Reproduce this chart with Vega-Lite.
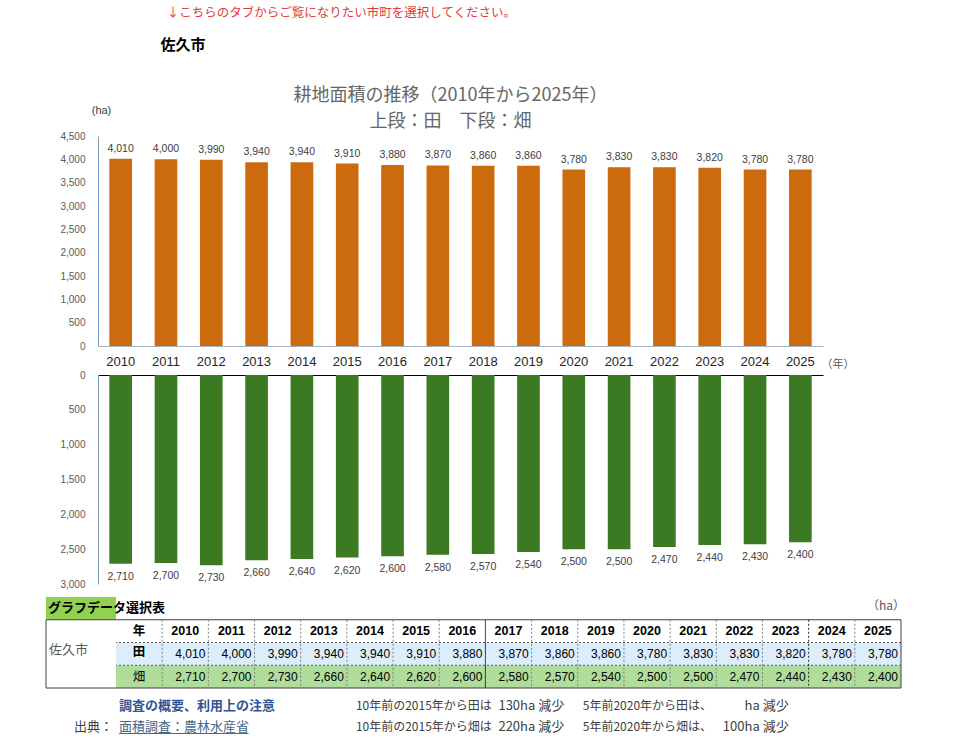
{
  "$schema": "https://vega.github.io/schema/vega-lite/v6.json",
  "padding": {"left": 45, "top": 6, "right": 0, "bottom": 0},
  "background": "white",
  "title": {
    "text": "\u200b\u2002↓こちらのタブからご覧になりたい市町を選択してください。",
    "subtitle": "佐久市",
    "anchor": "start",
    "dx": 115,
    "font": "Noto Sans CJK JP",
    "fontSize": 12.5,
    "fontWeight": "normal",
    "color": "#e23b3b",
    "subtitleFont": "Noto Sans CJK JP",
    "subtitleFontSize": 15,
    "subtitleFontWeight": "bold",
    "subtitleColor": "#000000",
    "subtitlePadding": 19,
    "offset": 34
  },
  "datasets": {
    "main": [
      {"year": 2010, "田": 4010, "畑": 2710},
      {"year": 2011, "田": 4000, "畑": 2700},
      {"year": 2012, "田": 3990, "畑": 2730},
      {"year": 2013, "田": 3940, "畑": 2660},
      {"year": 2014, "田": 3940, "畑": 2640},
      {"year": 2015, "田": 3910, "畑": 2620},
      {"year": 2016, "田": 3880, "畑": 2600},
      {"year": 2017, "田": 3870, "畑": 2580},
      {"year": 2018, "田": 3860, "畑": 2570},
      {"year": 2019, "田": 3860, "畑": 2540},
      {"year": 2020, "田": 3780, "畑": 2500},
      {"year": 2021, "田": 3830, "畑": 2500},
      {"year": 2022, "田": 3830, "畑": 2470},
      {"year": 2023, "田": 3820, "畑": 2440},
      {"year": 2024, "田": 3780, "畑": 2430},
      {"year": 2025, "田": 3780, "畑": 2400}
    ]
  },
  "spacing": 8,
  "vconcat": [
    {
      "spacing": 29,
      "bounds": "flush",
      "vconcat": [
        {
          "width": 777,
          "height": 210,
          "title": {
            "text": "耕地面積の推移（2010年から2025年）",
            "subtitle": "上段：田　下段：畑",
            "anchor": "middle",
            "dx": 16,
            "offset": -27,
            "font": "Noto Sans CJK JP",
            "fontSize": 18,
            "fontWeight": "normal",
            "color": "#666666",
            "subtitleFont": "Noto Sans CJK JP",
            "subtitleFontSize": 18,
            "subtitleColor": "#666666",
            "subtitlePadding": 8
          },
          "data": {"name": "main"},
          "encoding": {
            "x": {
              "field": "year",
              "type": "ordinal",
              "scale": {"paddingInner": 0.5, "paddingOuter": 0.25, "range": [52, 777]},
              "axis": {
                "title": "（年）",
                "titleX": 775,
                "titleY": 18,
                "titleAlign": "left",
                "titleBaseline": "middle",
                "titleFont": "Noto Sans CJK JP",
                "titleFontSize": 11,
                "titleFontWeight": "normal",
                "titleColor": "#595959",
                "labelAngle": 0,
                "labelFont": "Liberation Sans",
                "labelFontSize": 13,
                "labelColor": "#262626",
                "labelPadding": 9,
                "labelOverlap": false,
                "ticks": false,
                "domainColor": "#a6b4c4",
                "grid": false
              }
            },
            "y": {
              "field": "田",
              "type": "quantitative",
              "scale": {"domain": [0, 4500]},
              "axis": {
                "offset": -52,
                "title": "(ha)",
                "titleAngle": 0,
                "titleX": 3,
                "titleY": -26,
                "titleAlign": "center",
                "titleBaseline": "middle",
                "titleFont": "Liberation Sans",
                "titleFontSize": 11,
                "titleFontWeight": "normal",
                "titleColor": "#404040",
                "values": [0, 500, 1000, 1500, 2000, 2500, 3000, 3500, 4000, 4500],
                "format": ",.0f",
                "labelFont": "Liberation Sans",
                "labelFontSize": 10,
                "labelColor": "#595959",
                "labelPadding": 13,
                "labelOverlap": false,
                "labelFlush": false,
                "ticks": false,
                "grid": false,
                "domainColor": "#7f9db9"
              }
            }
          },
          "layer": [
            {
              "mark": {"type": "bar", "color": "#cc6a0e"}
            },
            {
              "mark": {"type": "text", "baseline": "bottom", "dy": -5, "font": "Liberation Sans", "fontSize": 10.5, "color": "#404040"},
              "encoding": {
                "text": {"field": "田", "type": "quantitative", "format": ","}
              }
            },
            {
              "data": {"values": [{}]},
              "mark": {"type": "text", "color": "white", "fontWeight": "bold", "fontSize": 15, "font": "Noto Sans CJK JP"},
              "encoding": {
                "x": {"datum": 2025, "type": "ordinal"},
                "y": {"datum": 1650, "type": "quantitative"},
                "text": {"value": "田"}
              }
            }
          ]
        },
        {
          "width": 777,
          "height": 209,
          "data": {"name": "main"},
          "encoding": {
            "x": {
              "field": "year",
              "type": "ordinal",
              "scale": {"paddingInner": 0.5, "paddingOuter": 0.25, "range": [52, 777]},
              "axis": {
                "orient": "top",
                "title": null,
                "labels": false,
                "ticks": false,
                "grid": false,
                "domainColor": "#000000"
              }
            },
            "y": {
              "field": "畑",
              "type": "quantitative",
              "scale": {"domain": [0, 3000], "reverse": true},
              "axis": {
                "offset": -52,
                "title": null,
                "values": [0, 500, 1000, 1500, 2000, 2500, 3000],
                "format": ",.0f",
                "labelFont": "Liberation Sans",
                "labelFontSize": 10,
                "labelColor": "#595959",
                "labelPadding": 13,
                "labelOverlap": false,
                "labelFlush": false,
                "ticks": false,
                "grid": false,
                "domainColor": "#7f9db9"
              }
            }
          },
          "layer": [
            {
              "mark": {"type": "bar", "color": "#3b7a23"}
            },
            {
              "mark": {"type": "text", "baseline": "top", "dy": 8, "font": "Liberation Sans", "fontSize": 10.5, "color": "#404040"},
              "encoding": {
                "text": {"field": "畑", "type": "quantitative", "format": ","}
              }
            },
            {
              "data": {"values": [{}]},
              "mark": {"type": "text", "color": "white", "fontWeight": "bold", "fontSize": 15, "font": "Noto Sans CJK JP"},
              "encoding": {
                "x": {"datum": 2025, "type": "ordinal"},
                "y": {"datum": 1220, "type": "quantitative"},
                "text": {"value": "畑"}
              }
            }
          ]
        }
      ]
    },
    {
      "spacing": 0,
      "bounds": "flush",
      "hconcat": [
        {
          "width": 70,
          "height": 136.5,
          "data": {"values": [{}]},
          "layer": [
            {
              "mark": {"type": "rect", "color": "#92d050"},
              "encoding": {
                "y": {"datum": "hdr", "type": "nominal", "scale": {"type": "band", "domain": ["hdr", "年", "田", "畑", "n1", "n2"], "paddingInner": 0, "paddingOuter": 0}, "axis": null},
                "x": {"datum": "c", "type": "nominal", "scale": {"type": "band", "domain": ["c"], "paddingInner": 0, "paddingOuter": 0}, "axis": null}
              }
            },
            {
              "mark": {"type": "rule", "color": "#404040", "strokeWidth": 1},
              "encoding": {"y": {"datum": "年", "type": "nominal", "bandPosition": 0}}
            },
            {
              "mark": {"type": "rule", "color": "#404040", "strokeWidth": 1},
              "encoding": {"y": {"datum": "n1", "type": "nominal", "bandPosition": 0}}
            },
            {
              "mark": {"type": "rule", "color": "#404040", "strokeWidth": 1},
              "encoding": {
                "x": {"datum": "c", "type": "nominal", "bandPosition": 0},
                "y": {"datum": "年", "type": "nominal", "bandPosition": 0},
                "y2": {"datum": "n1", "bandPosition": 0}
              }
            },
            {
              "mark": {"type": "text", "align": "left", "dx": 2, "dy": 0, "font": "Noto Sans CJK JP", "fontSize": 13, "fontWeight": "bold", "color": "#000000"},
              "encoding": {
                "x": {"datum": "c", "type": "nominal", "bandPosition": 0},
                "y": {"datum": "hdr", "type": "nominal"},
                "text": {"value": "グラフデータ選択表"}
              }
            },
            {
              "mark": {"type": "text", "align": "left", "dx": 3, "dy": -4, "font": "Noto Sans CJK JP", "fontSize": 13, "color": "#595959"},
              "encoding": {
                "x": {"datum": "c", "type": "nominal", "bandPosition": 0},
                "y": {"datum": "田", "type": "nominal"},
                "text": {"value": "佐久市"}
              }
            },
            {
              "mark": {"type": "text", "align": "right", "dx": -3, "dy": 5, "font": "Noto Sans CJK JP", "fontSize": 13, "color": "#404040"},
              "encoding": {
                "x": {"datum": "c", "type": "nominal", "bandPosition": 1},
                "y": {"datum": "n2", "type": "nominal"},
                "text": {"value": "出典："}
              }
            }
          ]
        },
        {
          "width": 785,
          "height": 136.5,
          "layer": [
            {
              "data": {"values": [{"row": "田"}, {"row": "畑"}]},
              "mark": {"type": "rect"},
              "encoding": {
                "y": {"field": "row", "type": "nominal", "scale": {"type": "band", "domain": ["hdr", "年", "田", "畑", "n1", "n2"], "paddingInner": 0, "paddingOuter": 0}, "axis": null},
                "fill": {"field": "row", "type": "nominal", "scale": {"domain": ["田", "畑"], "range": ["#dcedfb", "#b0dc9c"]}, "legend": null}
              }
            },
            {
              "data": {"values": [{}]},
              "mark": {"type": "rule", "color": "#595959", "strokeDash": [2, 2]},
              "encoding": {"y": {"datum": "田", "type": "nominal", "bandPosition": 0}}
            },
            {
              "data": {"values": [{}]},
              "mark": {"type": "rule", "color": "#595959", "strokeDash": [2, 2]},
              "encoding": {"y": {"datum": "畑", "type": "nominal", "bandPosition": 0}}
            },
            {
              "data": {"values": [{}]},
              "mark": {"type": "rule", "color": "#404040"},
              "encoding": {"y": {"datum": "年", "type": "nominal", "bandPosition": 0}}
            },
            {
              "data": {"values": [{}]},
              "mark": {"type": "rule", "color": "#404040"},
              "encoding": {"y": {"datum": "n1", "type": "nominal", "bandPosition": 0}}
            },
            {
              "data": {"name": "main"},
              "mark": {"type": "rule"},
              "encoding": {
                "x": {"field": "year", "type": "ordinal", "bandPosition": 0, "scale": {"type": "band", "domain": ["年", 2010, 2011, 2012, 2013, 2014, 2015, 2016, 2017, 2018, 2019, 2020, 2021, 2022, 2023, 2024, 2025], "paddingInner": 0, "paddingOuter": 0}, "axis": null},
                "y": {"datum": "年", "type": "nominal", "bandPosition": 0},
                "y2": {"datum": "n1", "bandPosition": 0},
                "strokeDash": {"condition": {"test": "datum.year === 2017", "value": [1, 0]}, "value": [2, 2]},
                "color": {"condition": {"test": "datum.year === 2017 || datum.year === 2024", "value": "#262626"}, "value": "#7f7f7f"}
              }
            },
            {
              "data": {"values": [{}]},
              "mark": {"type": "rule", "color": "#404040"},
              "encoding": {
                "x": {"datum": 2025, "type": "ordinal", "bandPosition": 1},
                "y": {"datum": "年", "type": "nominal", "bandPosition": 0},
                "y2": {"datum": "n1", "bandPosition": 0}
              }
            },
            {
              "data": {"name": "main"},
              "mark": {"type": "text", "font": "Liberation Sans", "fontSize": 12.5, "fontWeight": "bold", "color": "#000000"},
              "encoding": {
                "x": {"field": "year", "type": "ordinal"},
                "y": {"datum": "年", "type": "nominal"},
                "text": {"field": "year", "type": "ordinal"}
              }
            },
            {
              "data": {"values": [{}]},
              "mark": {"type": "text", "font": "Noto Sans CJK JP", "fontSize": 12.5, "fontWeight": "bold", "color": "#000000"},
              "encoding": {
                "x": {"datum": "年", "type": "ordinal"},
                "y": {"datum": "年", "type": "nominal"},
                "text": {"value": "年"}
              }
            },
            {
              "data": {"values": [{}]},
              "mark": {"type": "text", "font": "Noto Sans CJK JP", "fontSize": 12.5, "fontWeight": "bold", "color": "#000000", "dy": -2},
              "encoding": {
                "x": {"datum": "年", "type": "ordinal"},
                "y": {"datum": "田", "type": "nominal"},
                "text": {"value": "田"}
              }
            },
            {
              "data": {"values": [{}]},
              "mark": {"type": "text", "font": "Noto Sans CJK JP", "fontSize": 12.5, "color": "#000000"},
              "encoding": {
                "x": {"datum": "年", "type": "ordinal"},
                "y": {"datum": "畑", "type": "nominal"},
                "text": {"value": "畑"}
              }
            },
            {
              "data": {"name": "main"},
              "transform": [{"fold": ["田", "畑"], "as": ["key", "value"]}],
              "mark": {"type": "text", "align": "right", "dx": -3, "font": "Liberation Sans", "fontSize": 12, "color": "#000000"},
              "encoding": {
                "x": {"field": "year", "type": "ordinal", "bandPosition": 1},
                "y": {"field": "key", "type": "nominal"},
                "text": {"field": "value", "type": "quantitative", "format": ","}
              }
            },
            {
              "data": {"values": [{}]},
              "mark": {"type": "text", "align": "right", "dx": 4, "dy": -2, "font": "Noto Sans CJK JP", "fontSize": 12, "color": "#595959"},
              "encoding": {
                "x": {"datum": 2025, "type": "ordinal", "bandPosition": 1},
                "y": {"datum": "hdr", "type": "nominal"},
                "text": {"value": "（ha）"}
              }
            },
            {
              "data": {"values": [{}]},
              "mark": {"type": "text", "align": "left", "dx": 3, "dy": 7, "font": "Noto Sans CJK JP", "fontSize": 13, "fontWeight": "bold", "color": "#2f5597"},
              "encoding": {
                "x": {"datum": "年", "type": "ordinal", "bandPosition": 0},
                "y": {"datum": "n1", "type": "nominal"},
                "text": {"value": "調査の概要、利用上の注意"}
              }
            },
            {
              "data": {"values": [{}]},
              "mark": {"type": "text", "align": "left", "dx": 3, "dy": 5, "font": "Noto Sans CJK JP", "fontSize": 13, "color": "#44698a"},
              "encoding": {
                "x": {"datum": "年", "type": "ordinal", "bandPosition": 0},
                "y": {"datum": "n2", "type": "nominal"},
                "text": {"value": "面積調査：農林水産省"}
              }
            },
            {
              "data": {"values": [{}]},
              "mark": {"type": "rule", "color": "#44698a", "xOffset": 3, "x2Offset": -6, "yOffset": 0},
              "encoding": {
                "x": {"datum": "年", "type": "ordinal", "bandPosition": 0},
                "x2": {"datum": 2012, "bandPosition": 0},
                "y": {"datum": "n2", "type": "nominal", "bandPosition": 1}
              }
            },
            {
              "data": {"values": [{}]},
              "mark": {"type": "text", "align": "left", "dx": 9, "dy": 7, "font": "Noto Sans CJK JP", "fontSize": 12, "color": "#404040"},
              "encoding": {
                "x": {"datum": 2014, "type": "ordinal", "bandPosition": 0},
                "y": {"datum": "n1", "type": "nominal"},
                "text": {"value": "10年前の2015年から田は"}
              }
            },
            {
              "data": {"values": [{}]},
              "mark": {"type": "text", "align": "left", "dx": 9, "dy": 5, "font": "Noto Sans CJK JP", "fontSize": 12, "color": "#404040"},
              "encoding": {
                "x": {"datum": 2014, "type": "ordinal", "bandPosition": 0},
                "y": {"datum": "n2", "type": "nominal"},
                "text": {"value": "10年前の2015年から畑は"}
              }
            },
            {
              "data": {"values": [{}]},
              "mark": {"type": "text", "align": "left", "dx": 13, "dy": 7, "font": "Noto Sans CJK JP", "fontSize": 13, "color": "#404040"},
              "encoding": {
                "x": {"datum": 2017, "type": "ordinal", "bandPosition": 0},
                "y": {"datum": "n1", "type": "nominal"},
                "text": {"value": "130ha 減少"}
              }
            },
            {
              "data": {"values": [{}]},
              "mark": {"type": "text", "align": "left", "dx": 13, "dy": 5, "font": "Noto Sans CJK JP", "fontSize": 13, "color": "#404040"},
              "encoding": {
                "x": {"datum": 2017, "type": "ordinal", "bandPosition": 0},
                "y": {"datum": "n2", "type": "nominal"},
                "text": {"value": "220ha 減少"}
              }
            },
            {
              "data": {"values": [{}]},
              "mark": {"type": "text", "align": "left", "dx": 5, "dy": 7, "font": "Noto Sans CJK JP", "fontSize": 12, "color": "#404040"},
              "encoding": {
                "x": {"datum": 2019, "type": "ordinal", "bandPosition": 0},
                "y": {"datum": "n1", "type": "nominal"},
                "text": {"value": "5年前2020年から田は、"}
              }
            },
            {
              "data": {"values": [{}]},
              "mark": {"type": "text", "align": "left", "dx": 5, "dy": 5, "font": "Noto Sans CJK JP", "fontSize": 12, "color": "#404040"},
              "encoding": {
                "x": {"datum": 2019, "type": "ordinal", "bandPosition": 0},
                "y": {"datum": "n2", "type": "nominal"},
                "text": {"value": "5年前2020年から畑は、"}
              }
            },
            {
              "data": {"values": [{}]},
              "mark": {"type": "text", "align": "right", "dx": -20, "dy": 7, "font": "Noto Sans CJK JP", "fontSize": 13, "color": "#404040"},
              "encoding": {
                "x": {"datum": 2023, "type": "ordinal", "bandPosition": 1},
                "y": {"datum": "n1", "type": "nominal"},
                "text": {"value": "ha 減少"}
              }
            },
            {
              "data": {"values": [{}]},
              "mark": {"type": "text", "align": "right", "dx": -20, "dy": 5, "font": "Noto Sans CJK JP", "fontSize": 13, "color": "#404040"},
              "encoding": {
                "x": {"datum": 2023, "type": "ordinal", "bandPosition": 1},
                "y": {"datum": "n2", "type": "nominal"},
                "text": {"value": "100ha 減少"}
              }
            }
          ]
        }
      ]
    }
  ],
  "config": {
    "view": {"stroke": null},
    "axis": {"labelOverlap": false}
  }
}
